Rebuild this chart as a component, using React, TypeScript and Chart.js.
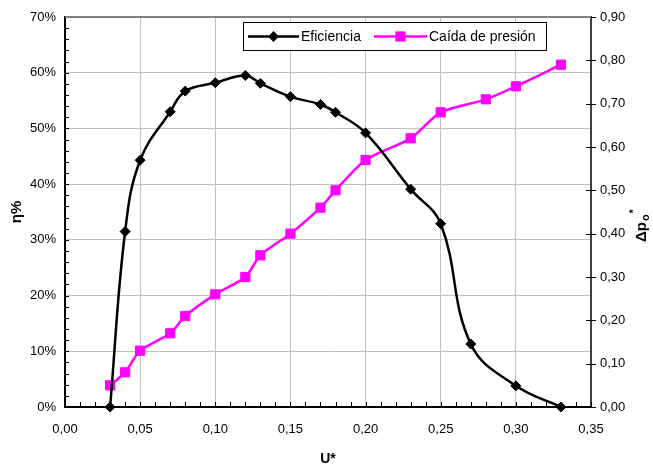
import React, { useEffect, useRef } from 'react';
import { Chart, registerables } from 'chart.js';

Chart.register(...registerables);

// ---- Data ----
const effLabel = 'Eficiencia';
const effU = [0.03, 0.04, 0.05, 0.07, 0.08, 0.10, 0.12, 0.13, 0.15, 0.17, 0.18, 0.20, 0.23, 0.25, 0.27, 0.30, 0.33];
const effVal = [0, 0.315, 0.443, 0.530, 0.567, 0.582, 0.595, 0.581, 0.557, 0.543, 0.529, 0.492, 0.391, 0.329, 0.113, 0.038, 0];

const presLabel = 'Caída de presión';
const presU = [0.03, 0.04, 0.05, 0.07, 0.08, 0.10, 0.12, 0.13, 0.15, 0.17, 0.18, 0.20, 0.23, 0.25, 0.28, 0.30, 0.33];
const presVal = [0.05, 0.08, 0.13, 0.17, 0.21, 0.26, 0.30, 0.35, 0.40, 0.46, 0.50, 0.57, 0.62, 0.68, 0.71, 0.74, 0.79];

const xTitle = 'U*';
const yTitle = 'η%';
const y1TitleMain = 'Δp';
const y1TitleSub = 'o';
const y1TitleSup = '*';

const FONT = "'Liberation Sans', Arial, sans-serif";

const comma2 = (v: number) => Number(v).toFixed(2).replace('.', ',');

const tickMarksPlugin = {
  id: 'tickMarks',
  beforeDatasetsDraw(chart: any) {
    const { ctx, chartArea: a, scales } = chart;
    const x = scales.x, y = scales.y, y1 = scales.y1;
    ctx.save();
    ctx.strokeStyle = '#000';
    ctx.lineWidth = 1;
    ctx.beginPath();
    const nx = Math.round((x.max - x.min) / 0.01);
    for (let i = 0; i <= nx; i++) {
      const px = Math.round(x.getPixelForValue(x.min + i * 0.01)) + 0.5;
      ctx.moveTo(px, a.bottom);
      ctx.lineTo(px, a.bottom - 5);
    }
    const ny = Math.round((y.max - y.min) / 0.02);
    for (let i = 0; i <= ny; i++) {
      const py = Math.round(y.getPixelForValue(y.min + i * 0.02)) + 0.5;
      ctx.moveTo(a.left, py);
      ctx.lineTo(a.left + 4, py);
    }
    const ny1 = Math.round((y1.max - y1.min) / 0.1);
    for (let i = 0; i <= ny1; i++) {
      const py = Math.round(y1.getPixelForValue(y1.min + i * 0.1)) + 0.5;
      ctx.moveTo(a.right - 5, py);
      ctx.lineTo(a.right + 5, py);
    }
    ctx.stroke();
    ctx.strokeStyle = '#808080';
    ctx.lineWidth = 2;
    ctx.beginPath();
    ctx.moveTo(a.left, a.top);
    ctx.lineTo(a.right, a.top);
    ctx.stroke();
    ctx.restore();
  },
};

const legendPlugin = {
  id: 'customLegend',
  afterDraw(chart: any) {
    const { ctx } = chart;
    const ds = chart.data.datasets;
    ctx.save();
    const bx = 243.5, by = 22.5, bw = 303, bh = 28;
    ctx.fillStyle = '#fff';
    ctx.fillRect(bx, by, bw, bh);
    ctx.strokeStyle = '#000';
    ctx.lineWidth = 1;
    ctx.strokeRect(bx, by, bw, bh);
    const cy = by + bh / 2;
    const items = [
      { x0: 248, x1: 299, tx: 301 },
      { x0: 374, x1: 427, tx: 429 },
    ];
    items.forEach((it, i) => {
      const d = ds[i];
      ctx.strokeStyle = d.borderColor;
      ctx.lineWidth = d.borderWidth;
      ctx.beginPath();
      ctx.moveTo(it.x0, cy);
      ctx.lineTo(it.x1, cy);
      ctx.stroke();
      const mx = (it.x0 + it.x1) / 2;
      ctx.fillStyle = d.backgroundColor;
      ctx.beginPath();
      if (d.pointStyle === 'rectRot') {
        const r = d.pointRadius + 0.5;
        ctx.moveTo(mx, cy - r);
        ctx.lineTo(mx + r, cy);
        ctx.lineTo(mx, cy + r);
        ctx.lineTo(mx - r, cy);
        ctx.closePath();
      } else {
        const s = d.pointRadius * Math.SQRT1_2 + 0.5;
        ctx.rect(mx - s, cy - s, 2 * s, 2 * s);
      }
      ctx.fill();
      ctx.fillStyle = '#000';
      ctx.font = `14px ${FONT}`;
      ctx.textBaseline = 'middle';
      ctx.textAlign = 'left';
      ctx.fillText(d.label, it.tx, cy + 1);
    });
    ctx.restore();
  },
};

const rightTitlePlugin = {
  id: 'rightTitle',
  afterDraw(chart: any) {
    const { ctx, chartArea: a } = chart;
    ctx.save();
    ctx.translate(646, (a.top + a.bottom) / 2 + 30);
    ctx.rotate(-Math.PI / 2);
    ctx.fillStyle = '#000';
    ctx.textBaseline = 'alphabetic';
    ctx.textAlign = 'left';
    ctx.font = `bold 15px ${FONT}`;
    ctx.fillText(y1TitleMain, 0, 0);
    const w = ctx.measureText(y1TitleMain).width;
    ctx.font = `bold 11px ${FONT}`;
    ctx.fillText(y1TitleSub, w + 1, 3);
    const w2 = ctx.measureText(y1TitleSub).width;
    ctx.font = `bold 10px ${FONT}`;
    ctx.fillText(y1TitleSup, w + w2 + 2, -9);
    ctx.restore();
  },
};

export default function App() {
  const ref = useRef<HTMLCanvasElement | null>(null);
  useEffect(() => {
    if (!ref.current) return;
    const chart = new Chart(ref.current, {
      type: 'line',
      data: {
        datasets: [
          {
            label: effLabel,
            data: effU.map((u, i) => ({ x: u, y: effVal[i] })),
            yAxisID: 'y',
            borderColor: '#000000',
            backgroundColor: '#000000',
            borderWidth: 2.5,
            pointStyle: 'rectRot',
            pointRadius: 5,
            pointBorderWidth: 1,
            pointBorderColor: '#000000',
            pointBackgroundColor: '#000000',
            tension: 0.4,
            clip: false as any,
          },
          {
            label: presLabel,
            data: presU.map((u, i) => ({ x: u, y: presVal[i] })),
            yAxisID: 'y1',
            borderColor: '#ff00ff',
            backgroundColor: '#ff00ff',
            borderWidth: 2.5,
            pointStyle: 'rect',
            pointRadius: 6.5,
            pointBorderWidth: 1,
            pointBorderColor: '#ff00ff',
            pointBackgroundColor: '#ff00ff',
            tension: 0.25,
            clip: false as any,
          },
        ],
      },
      options: {
        animation: false,
        responsive: true,
        maintainAspectRatio: false,
        layout: { padding: { top: 17, left: 0, right: 0, bottom: 0 } },
        plugins: { legend: { display: false }, tooltip: { enabled: false } },
        scales: {
          x: {
            type: 'linear',
            min: 0,
            max: 0.35,
            afterFit: (s: any) => { s.height = 66; },
            ticks: {
              stepSize: 0.05,
              padding: 15,
              color: '#000',
              maxRotation: 0,
              font: { family: FONT, size: 13 },
              callback: (v: any) => comma2(v),
            },
            grid: { color: '#c0c0c0', drawTicks: false },
            border: { color: '#000', width: 2 },
            title: {
              display: true,
              text: xTitle,
              color: '#000',
              font: { family: FONT, size: 14, weight: 'bold' },
              padding: { top: 0, bottom: 5.6 },
            },
          },
          y: {
            position: 'left',
            min: 0,
            max: 0.7,
            afterFit: (s: any) => { s.width = 65; },
            ticks: {
              stepSize: 0.1,
              padding: 9,
              color: '#000',
              font: { family: FONT, size: 13 },
              callback: (v: any) => Math.round(Number(v) * 100) + '%',
            },
            grid: { color: '#c0c0c0', drawTicks: false },
            border: { color: '#000', width: 2 },
            title: {
              display: true,
              text: yTitle,
              color: '#000',
              font: { family: FONT, size: 15, weight: 'bold' },
              padding: { top: 7.5, bottom: 0 },
            },
          },
          y1: {
            position: 'right',
            min: 0,
            max: 0.9,
            afterFit: (s: any) => { s.width = 62; },
            ticks: {
              stepSize: 0.1,
              padding: 9,
              color: '#000',
              font: { family: FONT, size: 13 },
              callback: (v: any) => comma2(v),
            },
            grid: { drawOnChartArea: false, drawTicks: false },
            border: { color: '#404040', width: 2 },
            title: { display: false },
          },
        },
      } as any,
      plugins: [tickMarksPlugin, legendPlugin, rightTitlePlugin],
    });
    return () => chart.destroy();
  }, []);
  return (
    <div style={{ position: 'fixed', left: 0, top: 0, width: 653, height: 473, background: '#fff' }}>
      <canvas ref={ref} />
    </div>
  );
}
